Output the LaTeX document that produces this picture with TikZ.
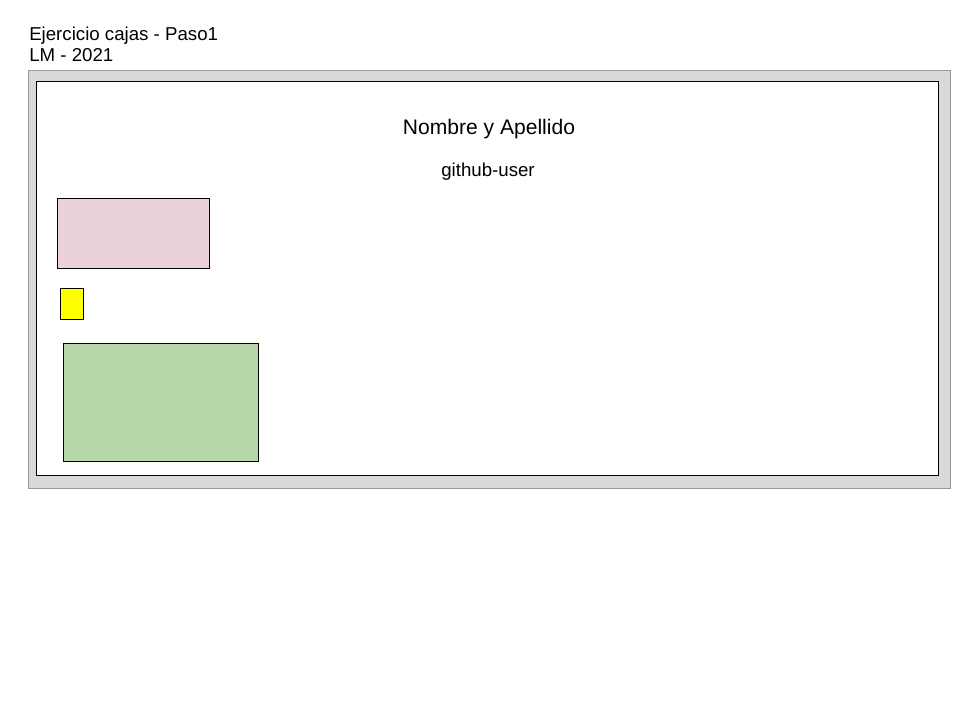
\documentclass[tikz,border=0pt]{standalone}
\usepackage{fontspec}
\setmainfont{Liberation Sans}
\usetikzlibrary{positioning}
\definecolor{marco}{HTML}{D9D9D9}
\definecolor{borde}{HTML}{999999}
\definecolor{rosa}{HTML}{EAD1DC}
\definecolor{amarillo}{HTML}{FFFF00}
\definecolor{verde}{HTML}{B6D7A8}
\begin{document}
\begin{tikzpicture}[x=0.75pt,y=-0.75pt,
   caja/.style={draw=black,anchor=north west,inner sep=0pt,line width=0.75pt},
   texto/.style={inner sep=0pt,font=\fontsize{14pt}{16pt}\selectfont}]
  \useasboundingbox (0,0) rectangle (960,720);
  \node[texto,anchor=base west] (titulo) at (29,41) {Ejercicio cajas - Paso1};
  \node[texto,anchor=base west] (autor) at (29,62) {LM - 2021};
  \node[caja,draw=borde,fill=marco,minimum width=691.5pt,minimum height=313.5pt] (fondo) at (28,70) {};
  \node[caja,fill=white,minimum width=676.5pt,minimum height=295.5pt] (hoja) at (36,81) {};
  \node[texto,anchor=base,font=\fontsize{15.8pt}{18pt}\selectfont] (nombre) at (489,135) {Nombre y Apellido};
  \node[texto,anchor=base] (usuario) at (488,177) {github-user};
  \node[caja,fill=rosa,minimum width=114pt,minimum height=52.5pt] (rosa) at (57,198) {};
  \node[caja,fill=amarillo,minimum width=17.25pt,minimum height=23.25pt] (amarilla) at (60,288) {};
  \node[caja,fill=verde,minimum width=146.25pt,minimum height=88.5pt] (verde) at (63,343) {};
\end{tikzpicture}
\end{document}
